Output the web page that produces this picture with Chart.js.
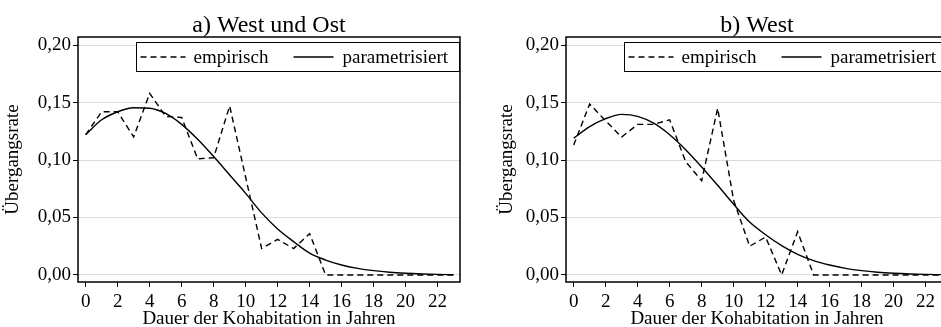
<!DOCTYPE html>
<html>
<head>
<meta charset="utf-8">
<title>Übergangsrate</title>
<script src="https://cdn.jsdelivr.net/npm/chart.js@4.4.1/dist/chart.umd.min.js"></script>
<style>
  html, body { margin: 0; padding: 0; background: #fff; overflow: hidden; width: 941px; height: 327px; }
  .panel { position: absolute; top: 0; width: 470px; height: 330px; }
  #boxA { left: 0; }
  #boxB { left: 488px; }
</style>
</head>
<body>
<div class="panel" id="boxA"><canvas id="chartA" width="470" height="330"></canvas></div>
<div class="panel" id="boxB"><canvas id="chartB" width="470" height="330"></canvas></div>
<script>
// years of cohabitation (x values)
const years = [0, 1, 2, 3, 4, 5, 6, 7, 8, 9, 10, 11, 12, 13, 14, 15, 16, 17, 18, 19, 20, 21, 22, 23];

// a) West und Ost
const empWestOst = [0.122, 0.142, 0.142, 0.120, 0.158, 0.138, 0.137, 0.101, 0.102, 0.147, 0.085, 0.023,
  0.031, 0.023, 0.036, 0, 0, 0, 0, 0, 0, 0, 0, 0];
const parWestOst = [0.122, 0.135, 0.142, 0.1455, 0.145, 0.1405, 0.131, 0.118, 0.103, 0.087, 0.071, 0.054,
  0.040, 0.029, 0.019, 0.013, 0.0087, 0.0058, 0.0038, 0.0024, 0.0015, 0.0009, 0.0005, 0.0003];

// b) West
const empWest = [0.113, 0.1487, 0.134, 0.120, 0.131, 0.131, 0.135, 0.0986, 0.082, 0.145, 0.065, 0.025,
  0.033, 0.0, 0.0377, 0, 0, 0, 0, 0, 0, 0, 0, 0];
const parWest = [0.119, 0.129, 0.136, 0.1397, 0.138, 0.132, 0.122, 0.109, 0.094, 0.078, 0.0615, 0.046,
  0.035, 0.0255, 0.018, 0.0125, 0.0087, 0.0058, 0.0038, 0.0024, 0.0015, 0.0009, 0.0005, 0.0003];

// tick labels
const xTicks = [0, 2, 4, 6, 8, 10, 12, 14, 16, 18, 20, 22];
const yTicks = [0, 0.05, 0.10, 0.15, 0.20];

const seriesNames = ['empirisch', 'parametrisiert'];
const xTitle = 'Dauer der Kohabitation in Jahren';
const yTitle = 'Übergangsrate';

Chart.defaults.font.family = '"Liberation Serif", "Times New Roman", serif';
Chart.defaults.color = '#000';

// frame, title and boxed legend inside the plot
const frameAndLegend = {
  id: 'frameAndLegend',
  afterDraw(chart, args, opts) {
    const { ctx, chartArea: a } = chart;
    ctx.save();

    // title over the plot area
    ctx.fillStyle = '#000';
    ctx.font = '24px "Liberation Serif", serif';
    ctx.textAlign = 'center';
    ctx.textBaseline = 'alphabetic';
    ctx.fillText(opts.title, (a.left + a.right) / 2, 31.5);

    // box round the plot
    ctx.strokeStyle = '#000';
    ctx.lineWidth = 1.5;
    ctx.strokeRect(a.left, a.top, a.right - a.left, a.bottom - a.top);

    // legend
    const x0 = Math.round(a.left + 58) + 0.5;
    const y0 = Math.round(a.top + 5) + 0.5;
    const w = Math.round(a.right - 1 - x0);
    const h = 29;
    ctx.fillStyle = '#fff';
    ctx.fillRect(x0, y0, w, h);
    ctx.lineWidth = 1;
    ctx.strokeRect(x0, y0, w, h);

    const ym = y0 + h / 2;
    const ds = chart.data.datasets;
    ctx.font = '19px "Liberation Serif", serif';
    ctx.textAlign = 'left';
    ctx.textBaseline = 'middle';

    ctx.beginPath();
    ctx.setLineDash(ds[0].borderDash);
    ctx.lineWidth = ds[0].borderWidth;
    ctx.moveTo(x0 + 4, ym);
    ctx.lineTo(x0 + 49, ym);
    ctx.stroke();
    ctx.setLineDash([]);
    ctx.fillStyle = '#000';
    ctx.fillText(ds[0].label, x0 + 57, ym + 1);

    ctx.beginPath();
    ctx.lineWidth = ds[1].borderWidth;
    ctx.moveTo(x0 + 157, ym);
    ctx.lineTo(x0 + 197, ym);
    ctx.stroke();
    ctx.fillText(ds[1].label, x0 + 206, ym + 1);

    ctx.restore();
  }
};

function makePanel(canvasId, title, emp, par, yTitlePad) {
  return new Chart(document.getElementById(canvasId), {
    type: 'line',
    data: {
      datasets: [
        {
          label: seriesNames[0],
          data: years.map((x, i) => ({ x: x, y: emp[i] })),
          borderColor: '#000',
          borderWidth: 1.4,
          borderDash: [6, 4],
          pointRadius: 0,
          tension: 0,
          fill: false
        },
        {
          label: seriesNames[1],
          data: years.map((x, i) => ({ x: x, y: par[i] })),
          borderColor: '#000',
          borderWidth: 1.4,
          pointRadius: 0,
          cubicInterpolationMode: 'monotone',
          fill: false
        }
      ]
    },
    options: {
      responsive: false,
      animation: false,
      layout: { padding: { top: 37, right: 10, left: 0, bottom: 0 } },
      plugins: {
        legend: { display: false },
        tooltip: { enabled: false },
        frameAndLegend: { title: title }
      },
      scales: {
        x: {
          type: 'linear',
          min: -0.48,
          max: 23.4,
          afterBuildTicks: (s) => { s.ticks = xTicks.map(v => ({ value: v })); },
          afterFit: (s) => { s.height = 48; },
          ticks: {
            font: { size: 19 },
            padding: 4,
            maxRotation: 0,
            autoSkip: false,
            callback: (v) => String(v)
          },
          grid: { drawOnChartArea: false, tickLength: 5, tickColor: '#000', tickWidth: 1 },
          border: { display: false },
          title: { display: true, text: xTitle, font: { size: 19 }, padding: { top: 0, bottom: 0 } }
        },
        y: {
          min: -0.0061,
          max: 0.207,
          afterBuildTicks: (s) => { s.ticks = yTicks.map(v => ({ value: v })); },
          afterFit: (s) => { s.width = 78; },
          ticks: {
            font: { size: 19 },
            padding: 2,
            callback: (v) => v.toFixed(2).replace('.', ',')
          },
          grid: { color: '#dcdcdc', lineWidth: 1, tickLength: 5, tickColor: '#000', tickWidth: 1 },
          border: { display: false },
          title: { display: true, text: yTitle, font: { size: 19 }, padding: { top: yTitlePad, bottom: 0 } }
        }
      }
    },
    plugins: [frameAndLegend]
  });
}

makePanel('chartA', 'a) West und Ost', empWestOst, parWestOst, 2);
makePanel('chartB', 'b) West', empWest, parWest, 8);
</script>
</body>
</html>
